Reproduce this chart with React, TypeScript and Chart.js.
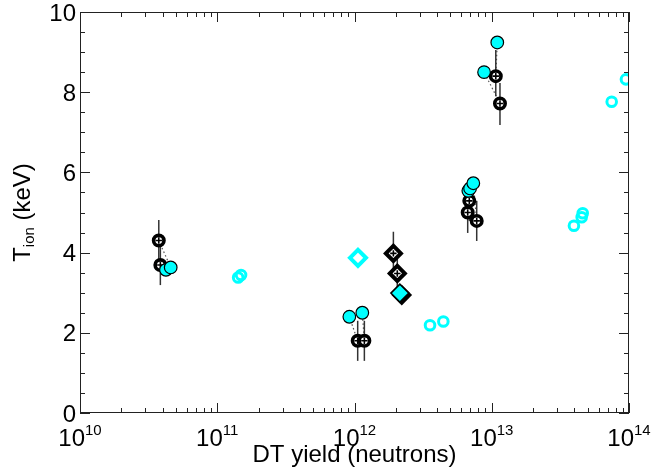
import React, { useEffect, useRef } from "react";
import { Chart, registerables } from "chart.js";

Chart.register(...registerables);

// ---------- data ----------
const xTickExponents = [10, 11, 12, 13, 14];
const yTickLabels = [0, 2, 4, 6, 8, 10];
const xMinorMultipliers = [2, 3, 4, 5, 6, 7, 8, 9];
const yMinorStep = 0.5;

// black open circles with cross (with error bars)
const blackCircleX = [3.75e10, 3.85e10, 1.055e12, 1.18e12, 6.86e12, 6.68e12, 7.77e12, 1.07e13, 1.148e13];
const blackCircleY = [4.3, 3.69, 1.8, 1.8, 5.29, 5.0, 4.79, 8.4, 7.72];
const blackCircleLow = [3.8, 3.19, 1.3, 1.3, 4.79, 4.49, 4.29, 7.9, 7.18];
const blackCircleHigh = [4.81, 4.19, 2.3, 2.3, 5.79, 5.5, 5.29, 9.05, 8.23];

// cyan filled circles
const cyanFilledX = [4.23e10, 4.58e10, 9.17e11, 1.14e12, 6.75e12, 6.95e12, 7.34e12, 8.79e12, 1.097e13];
const cyanFilledY = [3.57, 3.63, 2.4, 2.5, 5.54, 5.6, 5.73, 8.5, 9.24];

// dotted connections: black circle index -> cyan filled index
const pairCyanForBlack = [1, 0, 2, 3, 5, 4, 6, 8, 7];

// black diamonds with cross (with error bars)
const blackDiamondX = [1.92e12, 2.05e12, 2.21e12];
const blackDiamondY = [3.98, 3.48, 2.94];
const blackDiamondLow = [3.5, 3.0, 2.8];
const blackDiamondHigh = [4.52, 4.0, 3.1];

// cyan filled diamond
const cyanFilledDiamondX = [2.14e12];
const cyanFilledDiamondY = [2.99];

// cyan open diamond
const cyanOpenDiamondX = [1.06e12];
const cyanOpenDiamondY = [3.87];

// cyan open circles
const cyanOpenX = [1.42e11, 1.49e11, 3.55e12, 4.44e12, 3.97e13, 4.52e13, 4.6e13, 7.48e13, 9.5e13];
const cyanOpenY = [3.38, 3.44, 2.19, 2.28, 4.67, 4.88, 4.98, 7.76, 8.32];

const CYAN = "#00ffff";
const FONT = '"Liberation Sans", Arial, Helvetica, sans-serif';

const pts = (xs: number[], ys: number[]) => xs.map((x, i) => ({ x, y: ys[i] }));

const idlPlugin = {
  id: "idlAxes",
  beforeDatasetsDraw(chart: any) {
    const { ctx, chartArea } = chart;
    const xs = chart.scales.x;
    const ys = chart.scales.y;
    ctx.save();
    ctx.beginPath();
    ctx.rect(chartArea.left, chartArea.top, chartArea.right - chartArea.left, chartArea.bottom - chartArea.top);
    ctx.clip();
    // dotted connections
    ctx.strokeStyle = "#555";
    ctx.lineWidth = 1.2;
    ctx.setLineDash([1.5, 2.5]);
    blackCircleX.forEach((bx, i) => {
      const j = pairCyanForBlack[i];
      ctx.beginPath();
      ctx.moveTo(xs.getPixelForValue(bx), ys.getPixelForValue(blackCircleY[i]));
      ctx.lineTo(xs.getPixelForValue(cyanFilledX[j]), ys.getPixelForValue(cyanFilledY[j]));
      ctx.stroke();
    });
    ctx.setLineDash([]);
    // error bars
    ctx.strokeStyle = "#333";
    ctx.lineWidth = 1.5;
    const bars = (X: number[], lo: number[], hi: number[]) => {
      X.forEach((x, i) => {
        const px = xs.getPixelForValue(x);
        ctx.beginPath();
        ctx.moveTo(px, ys.getPixelForValue(lo[i]));
        ctx.lineTo(px, ys.getPixelForValue(hi[i]));
        ctx.stroke();
      });
    };
    bars(blackCircleX, blackCircleLow, blackCircleHigh);
    bars(blackDiamondX, blackDiamondLow, blackDiamondHigh);
    ctx.restore();
  },
  afterDatasetsDraw(chart: any) {
    const { ctx, chartArea } = chart;
    const { left, right, top, bottom } = chartArea;
    const xs = chart.scales.x;
    const ys = chart.scales.y;
    ctx.save();
    ctx.strokeStyle = "#222";
    ctx.lineWidth = 1;
    ctx.strokeRect(left + 0.5, top + 0.5, right - left - 1, bottom - top - 1);
    const major = 10;
    const minor = 5;
    ctx.beginPath();
    // x ticks
    xTickExponents.forEach((e, k) => {
      const px = Math.round(xs.getPixelForValue(Math.pow(10, e))) + 0.5;
      ctx.moveTo(px, bottom);
      ctx.lineTo(px, bottom - major);
      ctx.moveTo(px, top);
      ctx.lineTo(px, top + major);
      if (k < xTickExponents.length - 1) {
        xMinorMultipliers.forEach((m) => {
          const mx = Math.round(xs.getPixelForValue(m * Math.pow(10, e))) + 0.5;
          ctx.moveTo(mx, bottom);
          ctx.lineTo(mx, bottom - minor);
          ctx.moveTo(mx, top);
          ctx.lineTo(mx, top + minor);
        });
      }
    });
    // y ticks
    for (let v = 0; v <= 10.0001; v += yMinorStep) {
      const py = Math.round(ys.getPixelForValue(v)) + 0.5;
      const isMajor = yTickLabels.some((t) => Math.abs(t - v) < 1e-6);
      const len = isMajor ? major : minor;
      ctx.moveTo(left, py);
      ctx.lineTo(left + len, py);
      ctx.moveTo(right, py);
      ctx.lineTo(right - len, py);
    }
    ctx.stroke();

    // labels
    ctx.fillStyle = "#000";
    ctx.textBaseline = "alphabetic";
    const baseFont = `24px ${FONT}`;
    const supFont = `15px ${FONT}`;
    xTickExponents.forEach((e) => {
      const px = xs.getPixelForValue(Math.pow(10, e));
      ctx.font = baseFont;
      const wb = ctx.measureText("10").width;
      ctx.font = supFont;
      const we = ctx.measureText(String(e)).width;
      const start = px - (wb + we) / 2;
      ctx.font = baseFont;
      ctx.textAlign = "left";
      ctx.fillText("10", start, bottom + 33);
      ctx.font = supFont;
      ctx.fillText(String(e), start + wb, bottom + 22);
    });
    ctx.font = baseFont;
    ctx.textAlign = "right";
    yTickLabels.forEach((v) => {
      const py = ys.getPixelForValue(v);
      ctx.fillText(String(v), left - 4, py + 8.6);
    });
    // x title
    ctx.textAlign = "center";
    ctx.fillText("DT yield (neutrons)", (left + right) / 2, bottom + 49);
    // y title
    ctx.save();
    ctx.translate(30, (top + bottom) / 2);
    ctx.rotate(-Math.PI / 2);
    ctx.textAlign = "left";
    ctx.font = baseFont;
    const wT = ctx.measureText("T").width;
    const wK = ctx.measureText(" (keV)").width;
    ctx.font = supFont;
    const wI = ctx.measureText("ion").width;
    let sx = -(wT + wI + wK) / 2;
    ctx.font = baseFont;
    ctx.fillText("T", sx, 0);
    sx += wT;
    ctx.font = supFont;
    ctx.fillText("ion", sx, 4);
    sx += wI;
    ctx.font = baseFont;
    ctx.fillText(" (keV)", sx, 0);
    ctx.restore();
    ctx.restore();
  },
};

export default function App() {
  const ref = useRef<HTMLCanvasElement | null>(null);
  useEffect(() => {
    if (!ref.current) return;
    const chart = new Chart(ref.current, {
      type: "scatter",
      data: {
        datasets: [
          {
            label: "cyan open circles",
            data: pts(cyanOpenX, cyanOpenY),
            pointStyle: "circle",
            pointRadius: 4.8,
            borderWidth: 3,
            borderColor: CYAN,
            backgroundColor: "rgba(0,0,0,0)",
          },
          {
            label: "cyan open diamond",
            data: pts(cyanOpenDiamondX, cyanOpenDiamondY),
            pointStyle: "rectRot",
            pointRadius: 8,
            borderWidth: 4,
            borderColor: CYAN,
            backgroundColor: "rgba(0,0,0,0)",
          },
          {
            label: "cyan filled diamond",
            data: pts(cyanFilledDiamondX, cyanFilledDiamondY),
            pointStyle: "rectRot",
            pointRadius: 9,
            borderWidth: 1.5,
            borderColor: "#000",
            backgroundColor: CYAN,
          },
          {
            label: "black diamond cross",
            data: pts(blackDiamondX, blackDiamondY),
            pointStyle: "cross",
            pointRadius: 3.2,
            borderWidth: 1.6,
            borderColor: "#000",
          },
          {
            label: "black diamond",
            data: pts(blackDiamondX, blackDiamondY),
            pointStyle: "rectRot",
            pointRadius: 7.5,
            borderWidth: 4,
            borderColor: "#000",
            backgroundColor: "#fff",
          },
          {
            label: "cyan filled circles",
            data: pts(cyanFilledX, cyanFilledY),
            pointStyle: "circle",
            pointRadius: 6.3,
            borderWidth: 1.2,
            borderColor: "#000",
            backgroundColor: CYAN,
          },
          {
            label: "black circle cross",
            data: pts(blackCircleX, blackCircleY),
            pointStyle: "cross",
            pointRadius: 3.2,
            borderWidth: 1.6,
            borderColor: "#000",
          },
          {
            label: "black circles",
            data: pts(blackCircleX, blackCircleY),
            pointStyle: "circle",
            pointRadius: 5.2,
            borderWidth: 3.6,
            borderColor: "#000",
            backgroundColor: "#fff",
          },
        ],
      },
      options: {
        responsive: false,
        animation: false,
        devicePixelRatio: 1,
        layout: { padding: { left: 80, right: 26, top: 12, bottom: 63 } },
        plugins: { legend: { display: false }, tooltip: { enabled: false } },
        events: [],
        scales: {
          x: { type: "logarithmic", min: 1e10, max: 1e14, display: false },
          y: { type: "linear", min: 0, max: 10, display: false },
        },
      },
      plugins: [idlPlugin],
    });
    return () => chart.destroy();
  }, []);
  return (
    <div style={{ position: "absolute", left: 0, top: 0, width: 655, height: 476, background: "#fff" }}>
      <canvas ref={ref} width={655} height={476} style={{ display: "block" }} />
    </div>
  );
}
